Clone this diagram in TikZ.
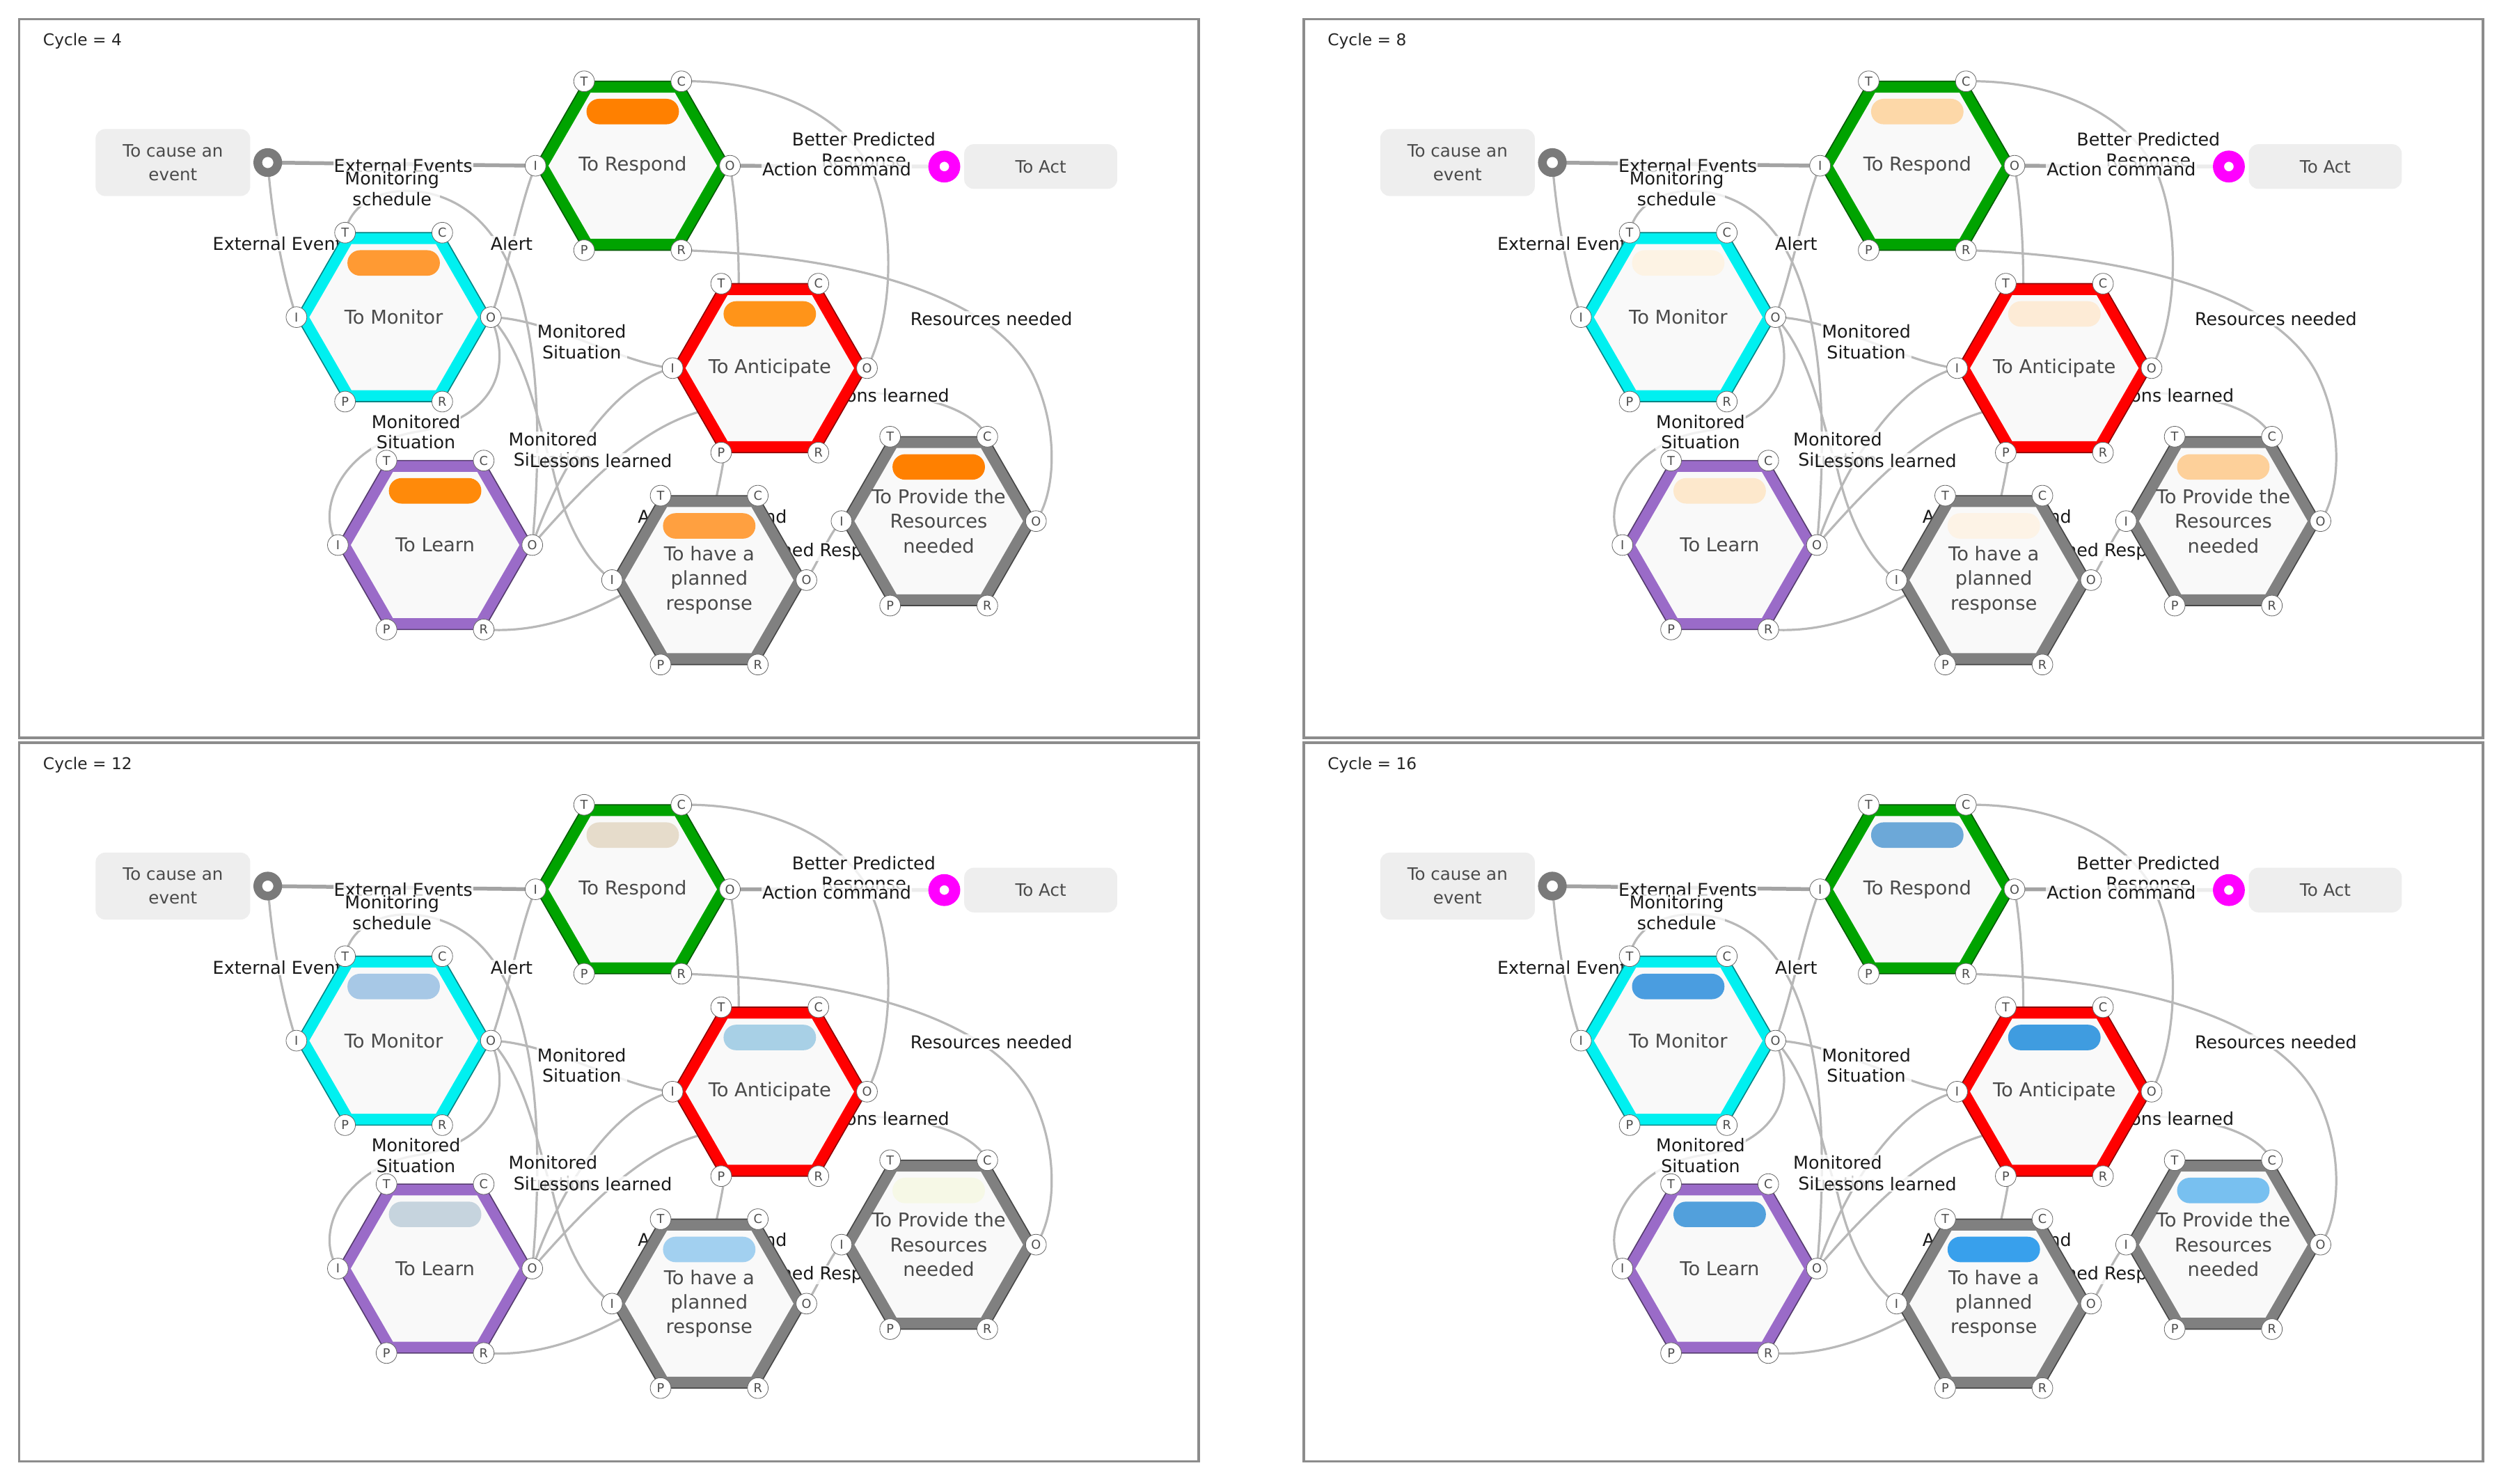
\documentclass[tikz,border=0pt]{standalone}
\usepackage{fontspec}
\setmainfont{DejaVu Sans}
\usetikzlibrary{calc}
\pgfdeclarelayer{bg}
\pgfdeclarelayer{lines}
\pgfdeclarelayer{labels}
\pgfsetlayers{bg,lines,labels,main}

\definecolor{connc}{HTML}{B8B8B8}
\definecolor{conndc}{HTML}{A3A3A3}
\definecolor{hexfill}{HTML}{F9F9F9}
\definecolor{fgreen}{HTML}{00A300}
\definecolor{fcyan}{HTML}{00F0F0}
\definecolor{fred}{HTML}{FF0000}
\definecolor{fpurple}{HTML}{9A6BC8}
\definecolor{fgray}{HTML}{808080}
\definecolor{boxfill}{HTML}{EEEEEE}
\definecolor{nodetext}{HTML}{4A4A4A}
\definecolor{framec}{HTML}{8C8C8C}
\definecolor{fmag}{HTML}{FF00FF}
\definecolor{donutgray}{HTML}{7A7A7A}

\tikzset{
  conn/.style={draw=connc, line width=1.4mm},
  connthick/.style={draw=conndc, line width=2.4mm},
  lbl/.style={fill=white, fill opacity=0.8, text opacity=1, inner sep=0.5mm,
    align=center, font=\fontsize{31.5}{37}\selectfont, text=black!90},
  asp/.style={circle, draw=black!60, fill=white, line width=0.35mm,
    minimum size=13mm, inner sep=0pt, font=\fontsize{22}{22}\selectfont, text=black!70},
  title/.style={align=center, font=\fontsize{34}{44}\selectfont, text=nodetext, inner sep=0pt},
  boxnode/.style={rounded corners=6mm, fill=boxfill, inner sep=0pt, align=center,
    font=\fontsize{30.5}{42}\selectfont, text=nodetext},
  panelframe/.style={draw=framec, line width=1.6mm},
}

% name, cx, cy, band colour, pill colour (HTML), title
\newcommand\hexfun[6]{%
  \definecolor{pilltmp}{HTML}{#5}%
  \fill[hexfill] ({#2+61},#3) -- ({#2+30.5},{#3-53}) -- ({#2-30.5},{#3-53}) -- ({#2-61},#3) -- ({#2-30.5},{#3+53}) -- ({#2+30.5},{#3+53}) -- cycle;
  \draw[#4, line width=7mm] ({#2+57},#3) -- ({#2+28.5},{#3-49.4}) -- ({#2-28.5},{#3-49.4}) -- ({#2-57},#3) -- ({#2-28.5},{#3+49.4}) -- ({#2+28.5},{#3+49.4}) -- cycle;
  \draw[#4!55!black, line width=0.7mm] ({#2+61},#3) -- ({#2+30.5},{#3-53}) -- ({#2-30.5},{#3-53}) -- ({#2-61},#3) -- ({#2-30.5},{#3+53}) -- ({#2+30.5},{#3+53}) -- cycle;
  \fill[pilltmp, rounded corners=7.9mm] ({#2-29},{#3-42}) rectangle ({#2+29},{#3-26});
  \node[title] (#1-name) at (#2,#3) {#6};
  \node[asp] (#1-O) at ({#2+61},#3) {O};
  \node[asp] (#1-C) at ({#2+30.5},{#3-53}) {C};
  \node[asp] (#1-T) at ({#2-30.5},{#3-53}) {T};
  \node[asp] (#1-I) at ({#2-61},#3) {I};
  \node[asp] (#1-P) at ({#2-30.5},{#3+53}) {P};
  \node[asp] (#1-R) at ({#2+30.5},{#3+53}) {R};
}

% dx, dy, cycle, pill colours: respond, monitor, anticipate, learn, planned, provide
\newcommand\panel[9]{%
\begin{scope}[shift={(#1,#2)}]
  \draw[panelframe] (12,12) rectangle (752,463);
  \node[anchor=west, inner sep=0pt, font=\fontsize{29}{32}\selectfont, text=black!85] (cyc) at (27,26) {Cycle = #3};
  \node[boxnode, minimum width=97mm, minimum height=42mm] (cause) at (108.5,102) {To cause an\\event};
  \node[boxnode, minimum width=96mm, minimum height=28mm] (act) at (653,104.5) {To Act};
  \node[circle, draw=donutgray, fill=white, line width=5.5mm, minimum size=12.5mm, inner sep=0pt] (d1) at (168,102) {};
  \node[circle, draw=fmag, fill=white, line width=7mm, minimum size=13mm, inner sep=0pt] (d2) at (592.5,104.5) {};
  \hexfun{rsp}{397}{104}{fgreen}{#4}{To Respond}
  \hexfun{mon}{247}{199}{fcyan}{#5}{To Monitor}
  \hexfun{ant}{483}{231}{fred}{#6}{To Anticipate}
  \hexfun{lrn}{273}{342}{fpurple}{#7}{To Learn}
  \hexfun{pln}{445}{364}{fgray}{#8}{To have a\\planned\\response}
  \hexfun{prv}{589}{327}{fgray}{#9}{To Provide the\\Resources\\needed}
  \begin{pgfonlayer}{lines}
    \draw[connthick] (d1.center) -- (rsp-I.center);
    \draw[conn] (d1.center) .. controls (171,140) and (178,175) .. (mon-I.center);
    \draw[conn] (mon-T.center) .. controls (222,118) and (262,112) .. (290,130) .. controls (330,155) and (344,230) .. (lrn-O.center);
    \draw[conn] (mon-O.center) .. controls (318,172) and (327,125) .. (rsp-I.center);
    \draw[conn] (mon-O.center) .. controls (345,200) and (390,228) .. (ant-I.center);
    \draw[conn] (mon-O.center) .. controls (325,240) and (300,265) .. (261,271) .. controls (218,278) and (196,318) .. (lrn-I.center);
    \draw[conn] (mon-O.center) .. controls (332,225) and (338,270) .. (347,295) .. controls (355,330) and (368,352) .. (pln-I.center);
    \draw[conn] (lrn-O.center) .. controls (352,290) and (385,240) .. (ant-I.center);
    \draw[conn] (lrn-O.center) .. controls (375,295) and (405,268) .. (440,258) .. controls (500,242) and (600,238) .. (prv-C.center);
    \draw[conn] (lrn-R.center) .. controls (345,398) and (395,382) .. (pln-C.center);
    \draw[conn] (rsp-O.center) .. controls (468,160) and (470,300) .. (pln-P.center);
    \draw[conn] (ant-O.center) .. controls (560,200) and (562,145) .. (548,110) .. controls (530,70) and (480,50) .. (rsp-C.center);
    \draw[conn] (prv-O.center) .. controls (662,310) and (665,270) .. (648,235) .. controls (620,180) and (520,160) .. (rsp-R.center);
    \draw[conn] (pln-O.center) .. controls (515,350) and (520,335) .. (prv-I.center);
    \draw[connthick] (rsp-O.center) -- (d2.center);
  \end{pgfonlayer}
  \begin{pgfonlayer}{labels}
    \node[lbl] (l1) at (253,104) {External Events};
    \node[lbl] (l2) at (246,118.5) {Monitoring\\schedule};
    \node[lbl] (l3) at (177,153) {External Events};
    \node[lbl] (l4) at (321,153) {Alert};
    \node[lbl] (l5) at (365,214.5) {Monitored\\Situation};
    \node[lbl] (l6) at (261,271) {Monitored\\Situation};
    \node[lbl] (l7) at (347,282) {Monitored\\Situation};
    \node[lbl] (l8) at (377,289) {Lessons learned};
    \node[lbl] (l9) at (551,248) {Lessons learned};
    \node[lbl] (l10) at (622,200) {Resources needed};
    \node[lbl] (l11) at (542,95) {Better Predicted\\Response};
    \node[lbl] (l12) at (525,106) {Action command};
    \node[lbl] (l13) at (447,324) {Action command};
    \node[lbl] (l14) at (517,346) {Planned Response};
  \end{pgfonlayer}
\end{scope}}

\begin{document}
\begin{tikzpicture}[x=1mm, y=-1mm]
  \useasboundingbox (0,0) rectangle (1568,931);
  \begin{pgfonlayer}{bg}
    \fill[white] (0,0) rectangle (1568,931);
  \end{pgfonlayer}
  \panel{0}{0}{4}{FF8000}{FF9A33}{FF9419}{FF8A0A}{FFA040}{FF8000}
  \panel{806}{0}{8}{FDD8A8}{FDF3E4}{FDEBD6}{FDE8CC}{FDF3E6}{FDD09A}
  \panel{0}{454}{12}{E6DCCB}{A7C8E6}{A8D0E6}{C6D4DE}{A2D0F0}{F6F8E6}
  \panel{806}{454}{16}{6CA8D8}{4A9DE0}{3F9CE0}{52A0DC}{38A0EC}{78C0F0}
\end{tikzpicture}
\end{document}
